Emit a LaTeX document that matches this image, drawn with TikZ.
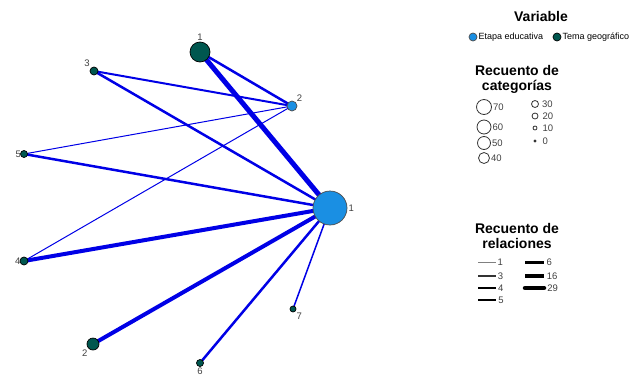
\documentclass[tikz,border=0pt]{standalone}
\usepackage{fontspec}
\setmainfont{Liberation Sans}
\usepackage{tikz}
\usetikzlibrary{backgrounds}
\tikzstyle{etapa} = [circle, draw=black!70, fill=etapablue, inner sep=0pt, line width=0.7pt]
\tikzstyle{tema} = [circle, draw=black, fill=temagreen, inner sep=0pt, line width=0.7pt]
\tikzstyle{rel} = [draw=relblue]
\tikzstyle{num} = [text=black!75, font=\fontsize{9.5}{10}\selectfont, inner sep=1pt]
\tikzstyle{ttl} = [font=\fontsize{14}{15}\selectfont\bfseries, align=center]
\tikzstyle{sz} = [circle, draw=black!80, inner sep=0pt, line width=0.8pt]
\definecolor{etapablue}{HTML}{1A8FE3}
\definecolor{temagreen}{HTML}{00574F}
\definecolor{relblue}{HTML}{0000E6}

\begin{document}
\begin{tikzpicture}[x=1pt,y=-1pt]
			\useasboundingbox (0,0) rectangle (636,378);
			% etapa educativa
			\node[etapa,minimum size=34pt,label={[num]right:1}] (e1) at (330,208) {};
			\node[etapa,minimum size=10pt,label={[num]above right:2}] (e2) at (292,106) {};
			% tema geografico
			\node[tema,minimum size=20pt,label={[num]above:1}] (t1) at (200,52) {};
			\node[tema,minimum size=12pt,label={[num]below left:2}] (t2) at (93,344) {};
			\node[tema,minimum size=8pt,label={[num]above left:3}] (t3) at (94,71) {};
			\node[tema,minimum size=8pt,label={[num,xshift=2pt]left:4}] (t4) at (24,261) {};
			\node[tema,minimum size=7pt,label={[num,xshift=2pt]left:5}] (t5) at (24,154) {};
			\node[tema,minimum size=7pt,label={[num]below:6}] (t6) at (200,363) {};
			\node[tema,minimum size=6pt,label={[num]below right:7}] (t7) at (293,309) {};
			\begin{scope}[on background layer]
				\draw[rel,line width=5pt] (t1.center) -- (e1.center);
				\draw[rel,line width=2.5pt] (t1.center) -- (e2.center);
				\draw[rel,line width=2pt] (t3.center) -- (e2.center);
				\draw[rel,line width=2.5pt] (t3.center) -- (e1.center);
				\draw[rel,line width=1pt] (t5.center) -- (e2.center);
				\draw[rel,line width=2.5pt] (t5.center) -- (e1.center);
				\draw[rel,line width=1pt] (t4.center) -- (e2.center);
				\draw[rel,line width=4pt] (t4.center) -- (e1.center);
				\draw[rel,line width=4pt] (t2.center) -- (e1.center);
				\draw[rel,line width=2.5pt] (t6.center) -- (e1.center);
				\draw[rel,line width=1.5pt] (t7.center) -- (e1.center);
			\end{scope}
			% leyenda variable
			\node[ttl] (var) at (541,16) {Variable};
			\node[etapa,minimum size=8pt] (le) at (473,37) {};
			\node[anchor=west,inner sep=1pt,font=\fontsize{9}{10}\selectfont] (lettext) at (le.east) {Etapa educativa};
			\node[tema,minimum size=8pt] (lt) at (557,37) {};
			\node[anchor=west,inner sep=1pt,font=\fontsize{9}{10}\selectfont] (lttext) at (lt.east) {Tema geográfico};
			% leyenda categorias
			\node[ttl] (cat) at (517,79) {Recuento de\\categorías};
			\node[sz,minimum size=15pt,label={[num]right:70}] (c70) at (484,107) {};
			\node[sz,minimum size=14pt,label={[num]right:60}] (c60) at (484,127) {};
			\node[sz,minimum size=13pt,label={[num]right:50}] (c50) at (484,143) {};
			\node[sz,minimum size=11pt,label={[num]right:40}] (c40) at (484,158) {};
			\node[sz,minimum size=7pt,label={[num,xshift=2pt]right:30}] (c30) at (535,104) {};
			\node[sz,minimum size=6pt,label={[num,xshift=3pt]right:20}] (c20) at (535,116) {};
			\node[sz,minimum size=4pt,label={[num,xshift=4pt]right:10}] (c10) at (535,128) {};
			\node[sz,minimum size=2pt,fill=black!70,label={[num,xshift=5pt]right:0}] (c0) at (535,141) {};
			% leyenda relaciones
			\node[ttl] (relt) at (517,236) {Recuento de\\relaciones};
			\draw[black!50,line width=1pt] (478,262) -- (496,262) node[num,right] (r1) {1};
			\draw[black!80,line width=1.5pt] (478,276) -- (496,276) node[num,right] (r3) {3};
			\draw[black,line width=2pt] (478,288) -- (496,288) node[num,right] (r4) {4};
			\draw[black,line width=2.5pt] (478,300) -- (496,300) node[num,right] (r5) {5};
			\draw[black,line width=3pt] (525,262) -- (544,262) node[num,right] (r6) {6};
			\draw[black,line width=3.5pt] (525,276) -- (544,276) node[num,right] (r16) {16};
			\draw[black,line width=4.5pt,line cap=round] (525,288) -- (544,288) node[num,right] (r29) {29};
		\end{tikzpicture}
\end{document}
